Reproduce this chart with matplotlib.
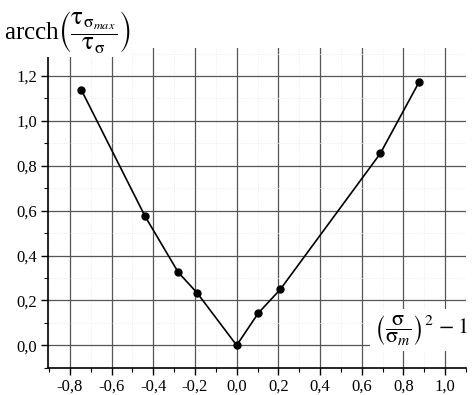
import matplotlib
matplotlib.use("Agg")
import matplotlib.pyplot as plt
from matplotlib.ticker import MultipleLocator, FuncFormatter

x_vals = [-0.745, -0.44, -0.28, -0.19, 0.0, 0.104, 0.209, 0.689, 0.876]
y_vals = [1.138, 0.576, 0.325, 0.234, 0.0, 0.144, 0.249, 0.855, 1.175]
x_ticks = [-0.8, -0.6, -0.4, -0.2, 0.0, 0.2, 0.4, 0.6, 0.8, 1.0]
y_ticks = [0.0, 0.2, 0.4, 0.6, 0.8, 1.0, 1.2]

plt.rcParams['font.family'] = ['Liberation Serif', 'DejaVu Serif']
plt.rcParams['mathtext.fontset'] = 'stix'

fig = plt.figure(figsize=(4.72, 3.95), dpi=100)
W, H = 472, 395
ax = fig.add_axes([48 / W, (H - 368) / H, (466 - 48) / W, (368 - 48) / H])
ax.set_xlim(-0.905, 1.10)
ax.set_ylim(-0.101, 1.325)

ax.plot(x_vals, y_vals, color='black', lw=1.2, marker='o', ms=5, zorder=5)

ax.set_xticks(x_ticks)
ax.set_yticks(y_ticks)
fmt = FuncFormatter(lambda v, p: f"{v:.1f}".replace('.', ','))
ax.xaxis.set_major_formatter(fmt)
ax.yaxis.set_major_formatter(fmt)
ax.xaxis.set_minor_locator(MultipleLocator(0.1))
ax.yaxis.set_minor_locator(MultipleLocator(0.1))
ax.tick_params(which='major', direction='out', length=5, width=1, labelsize=12, pad=3)
ax.tick_params(which='minor', direction='out', length=3, width=0.8)
ax.grid(which='major', color='#555555', lw=0.9)
ax.grid(which='minor', color='#e6e6e6', lw=0.6, ls=':')
ax.set_axisbelow(True)
for s in ['top', 'right']:
    ax.spines[s].set_visible(False)
for s in ['left', 'bottom']:
    ax.spines[s].set_linewidth(1.2)

fig.text(4 / W, 1 - 32 / H,
         r'arcch$\left(\dfrac{\mathrm{\tau}_{\mathrm{\sigma}_{max}}}{\mathrm{\tau}_{\mathrm{\sigma}}}\right)$',
         fontsize=18, ha='left', va='center',
         bbox=dict(facecolor='white', edgecolor='none', pad=1))
fig.text(468 / W, 1 - 330 / H,
         r'$\left(\dfrac{\mathrm{\sigma}}{\mathrm{\sigma}_m}\right)^{2}\,-1$',
         fontsize=16, ha='right', va='center',
         bbox=dict(facecolor='white', edgecolor='none', pad=3))

fig.savefig('out.png', dpi=100)
